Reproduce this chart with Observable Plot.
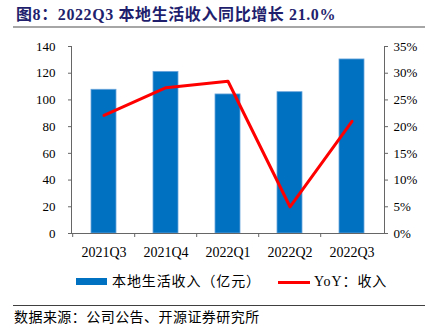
<!DOCTYPE html>
<html><head><meta charset="utf-8">
<script src="https://cdn.jsdelivr.net/npm/d3@7"></script>
<script src="https://cdn.jsdelivr.net/npm/@observablehq/plot@0.6"></script>
<style>
body{margin:0;background:#fff;}
#wrap{position:relative;width:425px;height:334px;overflow:hidden;font-family:"Liberation Serif","Times New Roman","Noto Sans CJK SC",serif;color:#000;}
#chart{position:absolute;left:0;top:0;}
.abs{position:absolute;white-space:nowrap;}
#title{left:16px;top:5px;font-size:16px;line-height:20px;font-weight:bold;color:#1f1f6e;letter-spacing:0.6px;}
#tline{left:13px;top:26px;width:412px;height:2px;background:#a6a6a6;}
.leg{font-size:14px;line-height:18px;top:273px;letter-spacing:0.9px;}
#sline{left:13px;top:305px;width:412px;height:1px;background:#404040;}
#src{left:14px;top:309px;font-size:14px;line-height:18px;letter-spacing:0.45px;}
</style></head><body>
<div id="wrap">
  <div id="chart"></div>
  <div class="abs" id="title">图8：2022Q3 本地生活收入同比增长 21.0%</div>
  <div class="abs" id="tline"></div>
  <div class="abs" style="left:76px;top:278px;width:31px;height:7px;background:#0070c0;"></div>
  <div class="abs leg" style="left:112px;">本地生活收入（亿元）</div>
  <div class="abs" style="left:278px;top:281px;width:32px;height:3px;background:#ff0000;"></div>
  <div class="abs leg" style="left:314px;">YoY：收入</div>
  <div class="abs" id="sline"></div>
  <div class="abs" id="src">数据来源：公司公告、开源证券研究所</div>
</div>
<script>
const quarters = ["2021Q3","2021Q4","2022Q1","2022Q2","2022Q3"];
const revenue = [107.6, 121.0, 104.1, 105.8, 130.3];
const yoy = [22.1, 27.3, 28.5, 5.0, 21.0];
const leftTicks = [0,20,40,60,80,100,120,140];
const rightTicks = [0,5,10,15,20,25,30,35];
const ratio = 140/35;

const data = quarters.map((q,i)=>({q, rev: revenue[i], yoy: yoy[i]}));

const W = 425, H = 334, mL = 71, mR = 41, mT = 46, mB = 101;
const step = (W - mL - mR) / quarters.length;
const axisColor = "#666";
const numFont = "Liberation Serif, Times New Roman, serif";

const chart = Plot.plot({
  width: W, height: H,
  marginLeft: mL, marginRight: mR, marginTop: mT, marginBottom: mB,
  style: {fontFamily: numFont, background: "transparent", color: "#000"},
  x: {type: "band", domain: quarters, paddingInner: 0.6, paddingOuter: 0.3, axis: null},
  y: {domain: [0,140], axis: null},
  marks: [
    Plot.barY(data, {x: "q", y: "rev", fill: "#0070c0", stroke: "#6aa5db", strokeWidth: 0.8}),
    Plot.lineY(data, {x: "q", y: d => d.yoy * ratio, stroke: "#ff0000", strokeWidth: 3}),
    Plot.ruleY([0], {stroke: axisColor, strokeWidth: 1.2}),
    Plot.frame({anchor: "left", stroke: axisColor}),
    Plot.frame({anchor: "right", stroke: axisColor}),
    Plot.axisY({anchor: "left", ticks: leftTicks, tickSize: 3, tickPadding: 13, fontSize: 13, stroke: axisColor, fill: "#000", label: null}),
    Plot.axisY({anchor: "right", ticks: rightTicks.map(v => v*ratio), tickFormat: d => (d/ratio) + "%", tickSize: 3, tickPadding: 6, fontSize: 13, stroke: axisColor, fill: "#000", label: null}),
    Plot.axisX({anchor: "bottom", tickSize: 0, tickPadding: 14, fontSize: 14, fill: "#000", label: null}),
    Plot.axisX({anchor: "bottom", tickSize: 4, tickFormat: () => "", dx: -step/2, stroke: axisColor, label: null})
  ]
});
document.getElementById("chart").appendChild(chart);
</script>
</body></html>
